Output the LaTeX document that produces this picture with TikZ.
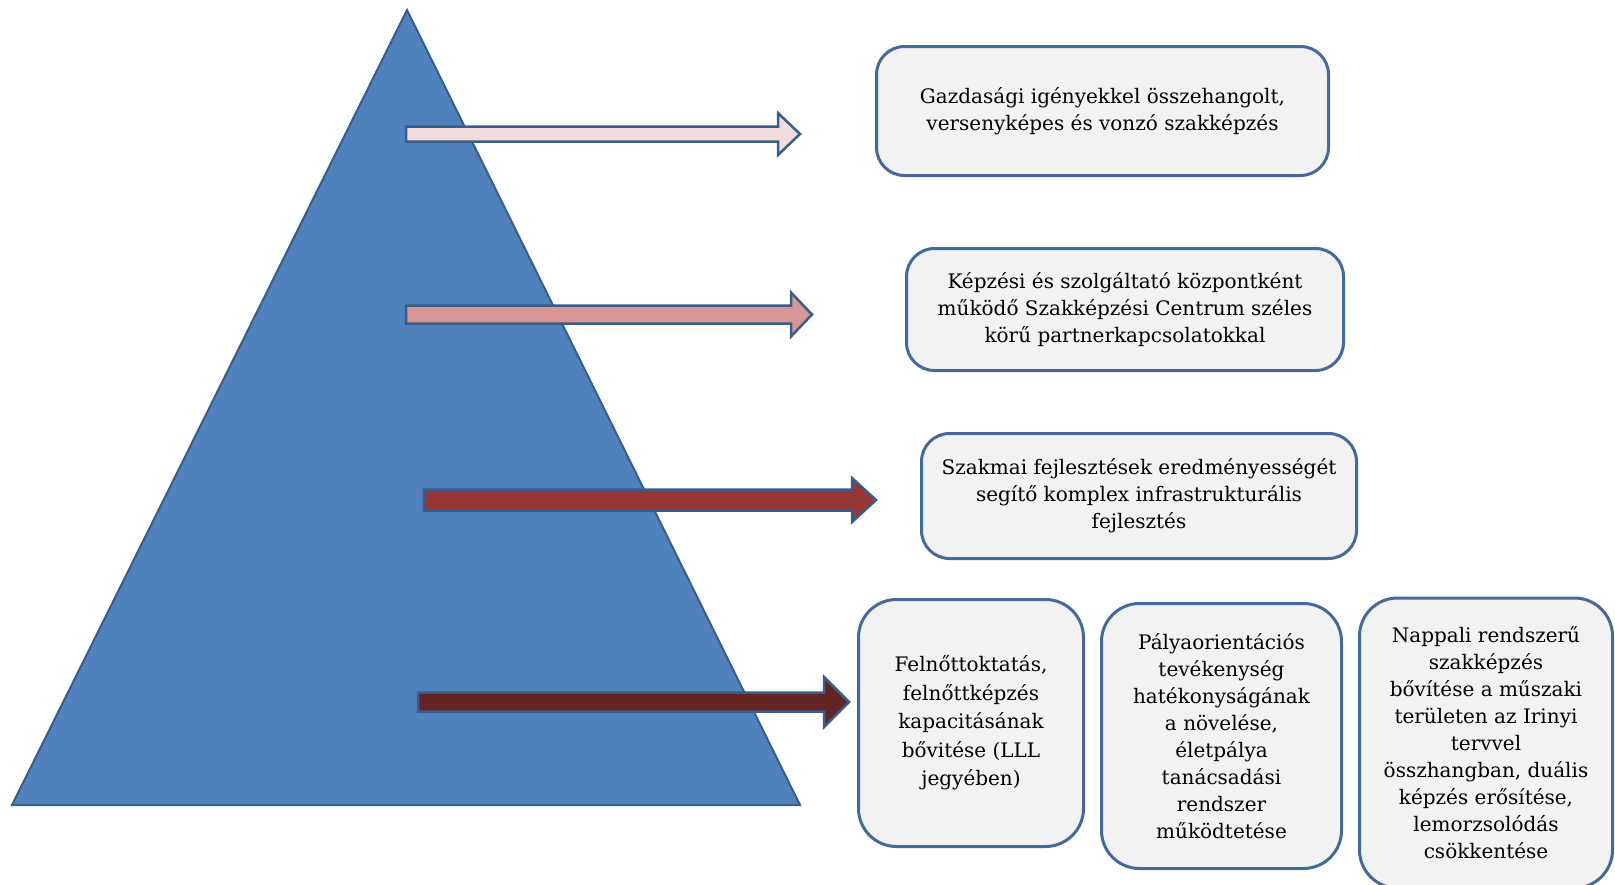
\documentclass[tikz,border=0pt]{standalone}
\usepackage{fontspec}
\setmainfont{DejaVu Serif}
\usetikzlibrary{positioning}
\definecolor{pyrblue}{HTML}{4F81BD}
\definecolor{pyredge}{HTML}{385D8A}
\definecolor{goalfill}{HTML}{F2F2F2}
\definecolor{goaledge}{HTML}{45699A}
\definecolor{arrowA}{HTML}{F2DCDB}
\definecolor{arrowB}{HTML}{D99694}
\definecolor{arrowC}{HTML}{953735}
\definecolor{arrowD}{HTML}{632523}
\tikzstyle{goal}=[draw=goaledge,line width=3pt,fill=goalfill,rounded corners=28pt,
  align=center,inner sep=0pt,font=\fontsize{20}{27}\selectfont]
\tikzstyle{tallgoal}=[goal,rounded corners=38pt]
\tikzstyle{bigarrow}=[draw=pyredge,line width=2.5pt,line join=miter]
% block arrow: y, tail x, tip x, half shaft, half head, head length, colour
\newcommand{\blockarrow}[7]{%
  \draw[bigarrow,fill=#7] (#2,#1-#4) -- (#3-#6,#1-#4) -- (#3-#6,#1-#5) -- (#3,#1)
    -- (#3-#6,#1+#5) -- (#3-#6,#1+#4) -- (#2,#1+#4) -- cycle;}

\begin{document}
\begin{tikzpicture}[x=1pt,y=-1pt]
    \clip (0,0) rectangle (1615,884);
    
    % pyramid
    \draw[fill=pyrblue,draw=pyredge,line width=2pt,line join=miter]
      (407,10) -- (12,805) -- (800,805) -- cycle;
    
    % arrows
    \blockarrow{134}{406}{800}{7.5}{21}{22}{arrowA}
    \blockarrow{314.5}{406}{812}{9}{22}{21}{arrowB}
    \blockarrow{500}{424}{876}{10.5}{22}{24}{arrowC}
    \blockarrow{702}{418}{849}{9.5}{25}{25}{arrowD}
    
    % goals
    \node[goal,minimum width=452pt,minimum height=129pt] (gazd) at (1102.5,111)
      {Gazdasági igényekkel összehangolt,\\versenyképes és vonzó szakképzés};
    \node[goal,minimum width=437pt,minimum height=122pt] (centrum) at (1125,309.5)
      {Képzési és szolgáltató központként\\működő Szakképzési Centrum széles\\körű partnerkapcsolatokkal};
    \node[goal,minimum width=435pt,minimum height=125pt] (infra) at (1139,496)
      {Szakmai fejlesztések eredményességét\\segítő komplex infrastrukturális\\fejlesztés};
    
    \node[tallgoal,font=\fontsize{20}{28.5}\selectfont,minimum width=225pt,minimum height=247pt]
      (felnott) at (971,723)
      {Felnőttoktatás,\\felnőttképzés\\kapacitásának\\bővitése (LLL\\jegyében)};
    \node[tallgoal,minimum width=240pt,minimum height=265pt] (palya) at (1221.5,736)
      {Pályaorientációs\\tevékenység\\hatékonyságának\\a növelése,\\életpálya\\tanácsadási\\rendszer\\működtetése};
    \node[tallgoal,minimum width=253pt,minimum height=290pt] (nappali) at (1486,743)
      {Nappali rendszerű\\szakképzés\\bővítése a műszaki\\területen az Irinyi\\tervvel\\összhangban, duális\\képzés erősítése,\\lemorzsolódás\\csökkentése};
    
\end{tikzpicture}
\end{document}
